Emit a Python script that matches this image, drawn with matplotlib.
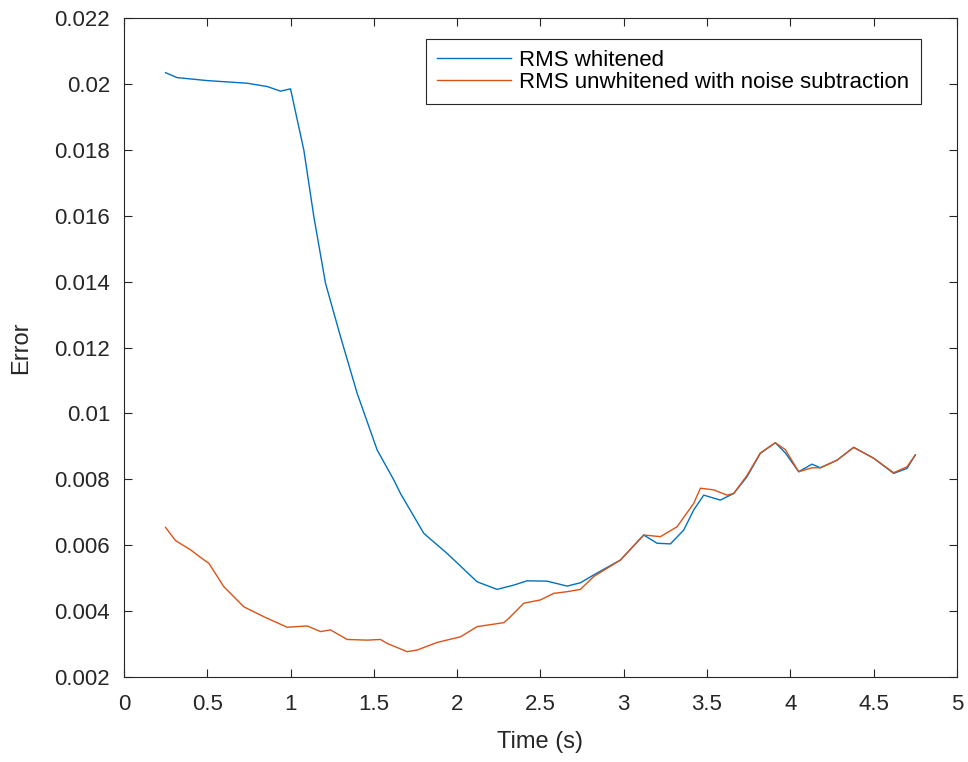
import numpy as np
import matplotlib
matplotlib.use('Agg')
import matplotlib.pyplot as plt
from matplotlib.ticker import FuncFormatter, MultipleLocator

# RMS whitened (blue)
t_w = [0.25, 0.32, 0.50, 0.74, 0.86, 0.94, 1.00, 1.08, 1.14, 1.21, 1.30, 1.40,
       1.52, 1.62, 1.66, 1.80, 1.94, 2.12, 2.24, 2.34, 2.42, 2.54, 2.66, 2.74,
       2.82, 2.98, 3.12, 3.20, 3.28, 3.36, 3.42, 3.48, 3.58, 3.66, 3.74, 3.82,
       3.91, 3.97, 4.05, 4.13, 4.18, 4.28, 4.38, 4.50, 4.62, 4.70, 4.75]
e_w = [0.02034, 0.02019, 0.02010, 0.02002, 0.01992, 0.01978, 0.01985, 0.01799,
       0.01597, 0.01395, 0.01233, 0.01061, 0.00889, 0.00798, 0.00757, 0.00636,
       0.00575, 0.00489, 0.00466, 0.00479, 0.00492, 0.00491, 0.00476, 0.00486,
       0.00510, 0.00555, 0.00631, 0.00606, 0.00604, 0.00646, 0.00707, 0.00752,
       0.00737, 0.00757, 0.00808, 0.00879, 0.00911, 0.00880, 0.00823, 0.00846,
       0.00835, 0.00858, 0.00897, 0.00864, 0.00818, 0.00833, 0.00874]

# RMS unwhitened with noise subtraction (orange)
t_u = [0.25, 0.31, 0.40, 0.46, 0.51, 0.60, 0.72, 0.84, 0.98, 1.10, 1.18, 1.24,
       1.34, 1.46, 1.54, 1.58, 1.70, 1.76, 1.88, 2.02, 2.12, 2.28, 2.31, 2.40,
       2.50, 2.58, 2.66, 2.74, 2.82, 2.98, 3.12, 3.22, 3.32, 3.42, 3.46, 3.54,
       3.62, 3.66, 3.74, 3.82, 3.91, 3.97, 4.05, 4.13, 4.18, 4.28, 4.38, 4.50,
       4.62, 4.70, 4.75]
e_u = [0.00654, 0.00614, 0.00586, 0.00563, 0.00545, 0.00474, 0.00413, 0.00383,
       0.00351, 0.00355, 0.00338, 0.00343, 0.00314, 0.00312, 0.00314, 0.00302,
       0.00277, 0.00282, 0.00305, 0.00322, 0.00353, 0.00365, 0.00378, 0.00424,
       0.00434, 0.00454, 0.00459, 0.00466, 0.00505, 0.00555, 0.00631, 0.00626,
       0.00656, 0.00727, 0.00773, 0.00768, 0.00752, 0.00757, 0.00812, 0.00880,
       0.00911, 0.00890, 0.00823, 0.00835, 0.00835, 0.00858, 0.00897, 0.00864,
       0.00820, 0.00838, 0.00874]

plt.rcParams['font.family'] = ['Liberation Sans', 'DejaVu Sans']
dark = '#262626'

fig = plt.figure(figsize=[9.68, 7.62], dpi=100)
ax = fig.add_axes([0.128, 0.1115, 0.8606, 0.8649])

ax.plot(t_w, e_w, '-', color='#0072BD', lw=1.0, label='RMS whitened')
ax.plot(t_u, e_u, '-', color='#D95319', lw=1.0, label='RMS unwhitened with noise subtraction')

ax.set_xlim(0, 5)
ax.set_ylim(0.002, 0.022)
ax.xaxis.set_major_locator(MultipleLocator(0.5))
ax.yaxis.set_major_locator(MultipleLocator(0.002))
fmt = FuncFormatter(lambda v, p: '%g' % round(v, 6))
ax.xaxis.set_major_formatter(fmt)
ax.yaxis.set_major_formatter(fmt)
ax.tick_params(direction='in', top=True, right=True, length=6, width=0.8,
               labelsize=16, colors=dark)
ax.tick_params(axis='x', pad=12)
ax.tick_params(axis='y', pad=10)
for s in ax.spines.values():
    s.set_color(dark)
    s.set_linewidth(0.8)

ax.set_xlabel('Time (s)', fontsize=17, color=dark, labelpad=12)
ax.set_ylabel('Error', fontsize=17, color=dark, labelpad=16)

leg = ax.legend(loc='upper right', bbox_to_anchor=(0.9565, 0.968), fontsize=16,
                fancybox=False, framealpha=1, edgecolor=dark, handlelength=3.3,
                borderpad=0.5, labelspacing=0.02, handletextpad=0.4, borderaxespad=0)
leg.get_frame().set_linewidth(0.8)

plt.savefig('out.png', dpi=100)
